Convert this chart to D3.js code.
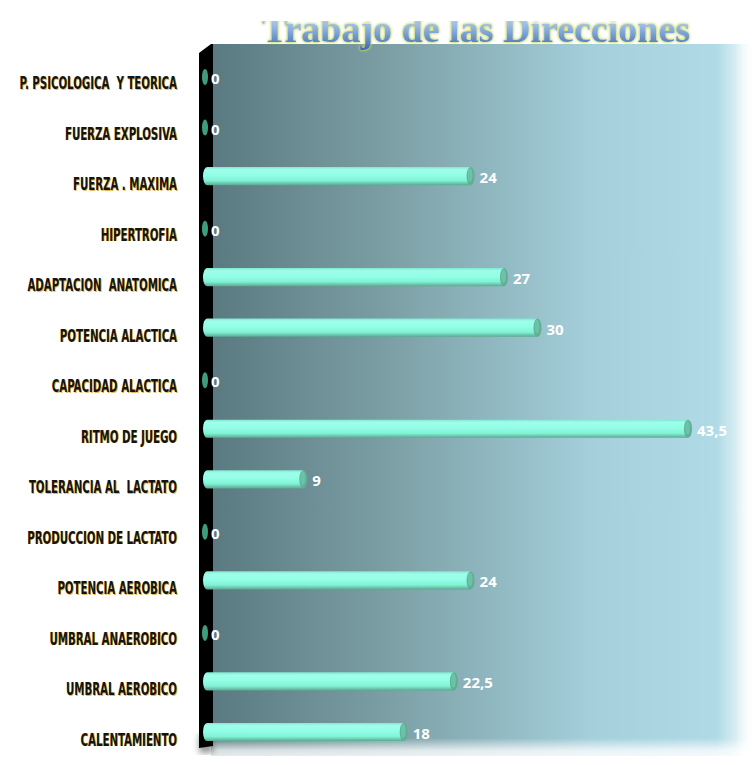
<!DOCTYPE html>
<html>
<head>
<meta charset="utf-8">
<script src="https://cdn.jsdelivr.net/npm/d3@7"></script>
<style>
  html, body { margin: 0; padding: 0; background: #ffffff; }
  svg { display: block; }
  .cat { white-space: pre; }
</style>
</head>
<body>
<svg id="chart" width="755" height="765"></svg>
<script>
// Training hours per direction (top to bottom)
const categories = [
  "P. PSICOLOGICA  Y TEORICA",
  "FUERZA EXPLOSIVA",
  "FUERZA . MAXIMA",
  "HIPERTROFIA",
  "ADAPTACION  ANATOMICA",
  "POTENCIA ALACTICA",
  "CAPACIDAD ALACTICA",
  "RITMO DE JUEGO",
  "TOLERANCIA AL  LACTATO",
  "PRODUCCION DE LACTATO",
  "POTENCIA AEROBICA",
  "UMBRAL ANAEROBICO",
  "UMBRAL AEROBICO",
  "CALENTAMIENTO"
];
const values = [0, 0, 24, 0, 27, 30, 0, 43.5, 9, 0, 24, 0, 22.5, 18];
const valueLabels = ["0", "0", "24", "0", "27", "30", "0", "43,5", "9", "0", "24", "0", "22,5", "18"];
const title = "Trabajo de las Direcciones";

const svg = d3.select("#chart");
const defs = svg.append("defs");

const x0 = 203;
const x = d3.scaleLinear().domain([0, 43.5]).range([x0, 688]);
const y = d3.scaleBand().domain(categories).range([49.75, 757.25]).paddingInner(0.64).paddingOuter(0.32);

// ---- gradients ----
const bg = defs.append("linearGradient").attr("id", "bg").attr("x1", 0).attr("x2", 1).attr("y1", 0).attr("y2", 0);
[[0, "#5a7980"], [0.35, "#7ea2a8"], [0.7, "#a4cfdb"], [0.93, "#b0dbe6"], [1, "#ffffff"]]
  .forEach(([o, c]) => bg.append("stop").attr("offset", o).attr("stop-color", c));

const fadeB = defs.append("linearGradient").attr("id", "fadeB").attr("x1", 0).attr("x2", 0).attr("y1", 0).attr("y2", 1);
[[0, "#ffffff", 0], [0.45, "#ffffff", 0.75], [1, "#ffffff", 1]]
  .forEach(([o, c, a]) => fadeB.append("stop").attr("offset", o).attr("stop-color", c).attr("stop-opacity", a));

const fadeR = defs.append("linearGradient").attr("id", "fadeR").attr("x1", 0).attr("x2", 1).attr("y1", 0).attr("y2", 0);
[[0, "#ffffff", 0], [1, "#ffffff", 1]]
  .forEach(([o, c, a]) => fadeR.append("stop").attr("offset", o).attr("stop-color", c).attr("stop-opacity", a));

const barG = defs.append("linearGradient").attr("id", "barG").attr("x1", 0).attr("x2", 0).attr("y1", 0).attr("y2", 1);
[[0, "#7fe8cf"], [0.15, "#a0fdea"], [0.45, "#92ffe6"], [0.75, "#82f2d6"], [1, "#5aa990"]]
  .forEach(([o, c]) => barG.append("stop").attr("offset", o).attr("stop-color", c));

const titleG = defs.append("linearGradient").attr("id", "titleG").attr("x1", 0).attr("x2", 0).attr("y1", 0).attr("y2", 1);
[[0, "#d0e4f6"], [0.45, "#95b8e2"], [1, "#3a68b0"]]
  .forEach(([o, c]) => titleG.append("stop").attr("offset", o).attr("stop-color", c));

defs.append("filter").attr("id", "soft").append("feGaussianBlur").attr("stdDeviation", 0.6);
defs.append("filter").attr("id", "shadowBlur").attr("x", "-50%").attr("width", "200%")
  .append("feGaussianBlur").attr("stdDeviation", 3);
const glow = defs.append("filter").attr("id", "glow").attr("x", "-10%").attr("y", "-30%").attr("width", "120%").attr("height", "160%");
glow.append("feGaussianBlur").attr("in", "SourceAlpha").attr("stdDeviation", 1.5).attr("result", "b");
glow.append("feFlood").attr("flood-color", "#c4d460").attr("result", "f");
glow.append("feComposite").attr("in", "f").attr("in2", "b").attr("operator", "in").attr("result", "g");
const gm = glow.append("feMerge");
gm.append("feMergeNode").attr("in", "g");
gm.append("feMergeNode").attr("in", "g");
gm.append("feMergeNode").attr("in", "SourceGraphic");

defs.append("clipPath").attr("id", "titleClip").append("rect")
  .attr("x", 0).attr("y", 21).attr("width", 755).attr("height", 40);

// ---- panel ----
svg.append("rect").attr("x", 211).attr("y", 44).attr("width", 544).attr("height", 712).attr("fill", "url(#bg)");
svg.append("rect").attr("x", 735).attr("y", 40).attr("width", 20).attr("height", 725).attr("fill", "url(#fadeR)");
svg.append("rect").attr("x", 180).attr("y", 738).attr("width", 575).attr("height", 27).attr("fill", "url(#fadeB)");

// wall shadow and wall
svg.append("rect").attr("x", 199).attr("y", 735).attr("width", 14).attr("height", 18)
  .attr("fill", "#555").attr("opacity", 0.6).attr("filter", "url(#shadowBlur)");
svg.append("path").attr("d", "M199,53 L211,44 L213,44 L213,746 L199,748 Z").attr("fill", "#000");

// ---- title ----
svg.append("g").attr("clip-path", "url(#titleClip)")
  .append("text")
  .attr("x", 476).attr("y", 42)
  .attr("text-anchor", "middle")
  .attr("font-family", "'Liberation Serif', 'DejaVu Serif', serif")
  .attr("font-weight", "bold")
  .attr("font-size", 38)
  .attr("fill", "url(#titleG)")
  .attr("filter", "url(#glow)")
  .text(title);

// ---- category labels ----
const labelG = svg.append("g");
categories.forEach((c, i) => {
  const cy = y(c) + y.bandwidth() / 2 + 14;
  const g = labelG.append("g").attr("transform", `translate(177,${cy}) scale(0.63,1)`);
  g.append("text").attr("class", "cat").attr("x", 1.4).attr("y", 0.5)
    .attr("text-anchor", "end")
    .attr("font-family", "'DejaVu Sans Condensed', 'DejaVu Sans', sans-serif")
    .attr("font-weight", "bold").attr("font-size", 18)
    .attr("fill", "#e0a020").attr("opacity", 0.75)
    .text(c);
  g.append("text").attr("class", "cat").attr("x", 0).attr("y", 0)
    .attr("text-anchor", "end")
    .attr("font-family", "'DejaVu Sans Condensed', 'DejaVu Sans', sans-serif")
    .attr("font-weight", "bold").attr("font-size", 18)
    .attr("fill", "#141414")
    .text(c);
});

// ---- bars ----
const bh = y.bandwidth();
const bars = svg.append("g");
categories.forEach((c, i) => {
  const v = values[i];
  const top = y(c);
  const cy = top + bh / 2;
  if (v > 0) {
    const xe = x(v);
    // cylinder body with rounded left end
    bars.append("path")
      .attr("d", `M${xe},${top} L${x0 + 4},${top} A4,${bh / 2} 0 0 0 ${x0 + 4},${top + bh} L${xe},${top + bh} Z`)
      .attr("fill", "url(#barG)");
    // end cap
    bars.append("ellipse").attr("cx", xe).attr("cy", cy).attr("rx", 4).attr("ry", bh / 2)
      .attr("fill", "#5fae95");
    bars.append("ellipse").attr("cx", xe - 0.5).attr("cy", cy - 1).attr("rx", 2.5).attr("ry", bh / 2 - 2)
      .attr("fill", "#6cc2a6");
  } else {
    bars.append("ellipse").attr("cx", x0 + 2).attr("cy", cy + 2).attr("rx", 3).attr("ry", 8)
      .attr("fill", "#3f9c7e").attr("filter", "url(#soft)");
  }
  bars.append("text")
    .attr("x", x(v) + (v > 0 ? 9 : 8))
    .attr("y", cy + (v > 0 ? 7 : 9))
    .attr("font-family", "'Open Sans', 'Lato', sans-serif")
    .attr("font-weight", "bold").attr("font-size", 15)
    .attr("fill", "#ffffff")
    .text(valueLabels[i]);
});
</script>
</body>
</html>
